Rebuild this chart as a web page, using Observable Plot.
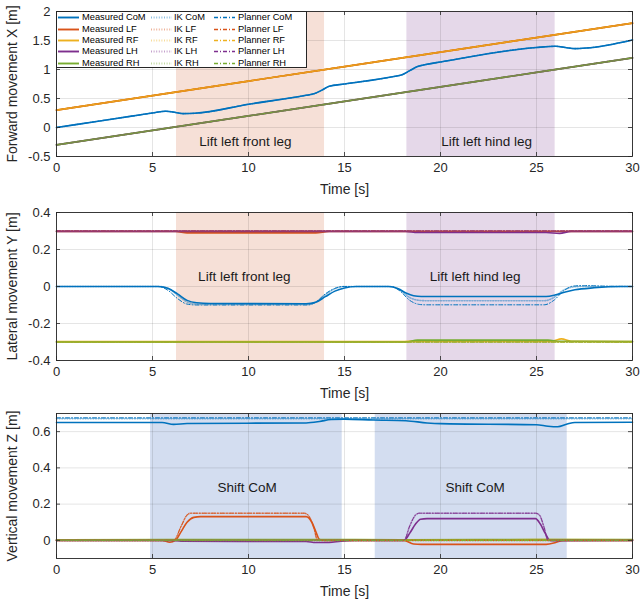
<!DOCTYPE html>
<html><head><meta charset="utf-8">
<script src="https://cdn.jsdelivr.net/npm/d3@7"></script>
<script src="https://cdn.jsdelivr.net/npm/@observablehq/plot@0.6"></script>
<style>
body{margin:0;background:#fff;font-family:"Liberation Sans",Arial,sans-serif;}
#chart{position:relative;width:640px;height:603px;overflow:hidden;}
.panel{position:absolute;left:0;}
g[aria-label$="axis label"]{font-size:14px;}
.legend{position:absolute;left:56px;top:11px;width:251px;height:57px;border:0.8px solid #262626;background:#fff;box-sizing:border-box;font-size:9.3px;color:#000;font-family:"Liberation Sans",Arial,sans-serif;}
.legend .item{position:absolute;white-space:nowrap;line-height:10px;height:10px;}
.legend svg{position:absolute;left:0;top:0;}
.legend span{position:absolute;top:0;}
</style></head>
<body><div id="chart"></div>
<script>
// ---------- categories ----------
const SOURCES = ["Measured", "IK", "Planner"];
const PARTS = ["CoM", "LF", "RF", "LH", "RH"];
const PART_COLORS = ["#0072BD", "#D95319", "#EDB120", "#7E2F8E", "#77AC30"];
const T_TICKS = [0, 5, 10, 15, 20, 25, 30];
const X_TICKS = [-0.5, 0, 0.5, 1, 1.5, 2];
const Y_TICKS = [-0.4, -0.2, 0, 0.2, 0.4];
const Z_TICKS = [0, 0.2, 0.4, 0.6];

// ---------- panel 1: forward X [t, value] ----------
const xCoMMeasured = [[0,0],[2,0.1],[4,0.2],[5,0.25],[5.7,0.28],[6.2,0.26],[6.6,0.24],[7.2,0.245],[10,0.40],[13,0.555],[13.4,0.58],[13.8,0.64],[14.2,0.71],[15,0.75],[17.5,0.875],[18,0.91],[18.4,0.98],[18.8,1.05],[19.3,1.09],[20,1.13],[25,1.38],[26,1.40],[26.5,1.38],[27,1.36],[27.6,1.37],[30,1.51]];
const xFrontFeet = [[0,0.3],[10,0.8],[20,1.3],[30,1.8]];
const xHindFeet = [[0,-0.3],[10,0.2],[20,0.7],[30,1.2]];

// ---------- panel 2: lateral Y ----------
const yCoMMeasured = [[0,0],[5.3,0],[5.8,-0.01],[6.3,-0.04],[6.8,-0.075],[7.3,-0.088],[8,-0.092],[13,-0.093],[13.5,-0.085],[14,-0.055],[14.5,-0.025],[15,-0.008],[15.6,0],[17.3,0],[17.8,-0.012],[18.2,-0.035],[18.6,-0.05],[19,-0.054],[25.5,-0.054],[26,-0.045],[26.5,-0.03],[27,-0.018],[28,-0.007],[29.4,0],[30,0]];
const yCoMIK = [[0,0],[5.4,0],[5.9,-0.015],[6.4,-0.055],[6.9,-0.088],[7.5,-0.096],[13.1,-0.096],[13.5,-0.085],[14,-0.045],[14.5,-0.012],[15,0],[17.4,0],[17.9,-0.02],[18.4,-0.06],[18.9,-0.075],[19.3,-0.077],[25.4,-0.077],[25.9,-0.06],[26.4,-0.02],[26.9,-0.003],[27.3,0],[30,0]];
const yCoMPlanner = [[0,0],[5.3,0],[5.8,-0.02],[6.3,-0.065],[6.8,-0.095],[7.3,-0.1],[13.1,-0.1],[13.5,-0.085],[14,-0.04],[14.5,-0.01],[14.9,0],[17.4,0],[17.9,-0.025],[18.4,-0.075],[18.9,-0.097],[19.2,-0.099],[25.4,-0.099],[25.9,-0.075],[26.4,-0.025],[26.9,0.002],[27.5,0.005],[28.5,0.002],[30,0]];
const yLFMeasured = [[0,0.297],[6.2,0.297],[6.8,0.29],[13.5,0.29],[14.2,0.297],[30,0.297]];
const yLHMeasured = [[0,0.298],[18.2,0.298],[18.8,0.292],[25.5,0.292],[26.2,0.287],[26.8,0.298],[30,0.298]];
const yRFMeasured = [[0,-0.298],[18,-0.298],[18.6,-0.295],[25.8,-0.295],[26.3,-0.283],[26.8,-0.296],[30,-0.298]];
const yRHMeasured = [[0,-0.3],[18.2,-0.3],[18.8,-0.29],[25.6,-0.29],[26.2,-0.296],[30,-0.298]];
const yLeftRef = [[0,0.3],[30,0.3]];
const yRightRef = [[0,-0.3],[30,-0.3]];

// ---------- panel 3: vertical Z ----------
const zCoMMeasured = [[0,0.65],[5.5,0.65],[6.1,0.64],[6.8,0.645],[13,0.648],[13.7,0.656],[14.3,0.667],[15,0.669],[16.5,0.664],[18.2,0.66],[19.3,0.648],[20,0.644],[25,0.638],[25.6,0.63],[26.1,0.627],[26.6,0.642],[27,0.65],[30,0.652]];
const zCoMIK = [[0,0.672],[30,0.672]];
const zCoMPlanner = [[0,0.676],[30,0.676]];
const zLFMeasured = [[0,0],[5.5,0],[5.9,-0.01],[6.2,0],[6.5,0.05],[6.8,0.1],[7.15,0.127],[7.5,0.131],[13,0.131],[13.3,0.1],[13.5,0.05],[13.7,0.005],[14,0],[18.1,0],[18.6,-0.02],[19,-0.022],[25.5,-0.022],[26,-0.012],[26.4,0],[30,0]];
const zLFPlanner = [[0,0],[6.1,0],[6.5,0.08],[6.8,0.14],[7,0.15],[12.9,0.15],[13.1,0.14],[13.4,0.07],[13.6,0],[30,0]];
const zLHMeasured = [[0,0],[6,0],[6.5,-0.005],[13,-0.006],[13.5,-0.012],[14.2,-0.012],[14.8,-0.004],[15.5,0],[18.1,0],[18.4,0.04],[18.7,0.09],[18.96,0.117],[19.3,0.12],[24.95,0.12],[25.2,0.09],[25.45,0.04],[25.7,0],[26,-0.002],[30,0]];
const zLHPlanner = [[0,0],[18.1,0],[18.4,0.08],[18.7,0.14],[18.9,0.15],[24.95,0.15],[25.15,0.14],[25.4,0.07],[25.6,0],[30,0]];
const zRFMeasured = [[0,0.002],[18,0.002],[25,0.004],[30,0.003]];
const zRHMeasured = [[0,0.003],[6,0.004],[13,0.005],[18,0.003],[26,0.005],[30,0.004]];
const zFootRef = [[0,0],[30,0]];

// ---------- phases and notes ----------
const liftBands = [[6.25, 13.96], [18.25, 25.97]];
const shiftBands = [[4.9, 14.88], [16.6, 26.6]];
const liftNames = ["Lift left front leg", "Lift left hind leg"];
const shiftNames = ["Shift CoM", "Shift CoM"];

// ---------- styles ----------
const STYLE = {
  Measured: {w: 1.6, dash: null, op: 1},
  IK: {w: 1.6, dash: "1,1.6", op: 0.45},
  Planner: {w: 1, dash: "4,2,1,2", op: 1}
};
const FONT = '"Liberation Sans", Arial, sans-serif';
const INK = "#262626";

const panels = [
  {top: 0, height: 196, mt: 11, domain: [-0.5, 2], ticks: X_TICKS, label: "Forward movement X [m]",
   bands: liftBands, bandFills: ["#f6e0d7", "#e5d8e9"],
   notes: [{t: 9.84, v: -0.25, text: liftNames[0]}, {t: 22.4, v: -0.25, text: liftNames[1]}],
   series: {
     Measured: {CoM: xCoMMeasured, LF: xFrontFeet, RF: xFrontFeet, LH: xHindFeet, RH: xHindFeet},
     IK: {CoM: xCoMMeasured, LF: xFrontFeet, RF: xFrontFeet, LH: xHindFeet, RH: xHindFeet},
     Planner: {CoM: xCoMMeasured, LF: xFrontFeet, RF: xFrontFeet, LH: xHindFeet, RH: xHindFeet}
   }},
  {top: 200, height: 200, mt: 12, domain: [-0.4, 0.4], ticks: Y_TICKS, label: "Lateral movement Y [m]",
   bands: liftBands, bandFills: ["#f6e0d7", "#e5d8e9"],
   notes: [{t: 9.78, v: 0.054, text: liftNames[0]}, {t: 21.8, v: 0.054, text: liftNames[1]}],
   series: {
     Measured: {CoM: yCoMMeasured, LF: yLFMeasured, RF: yRFMeasured, LH: yLHMeasured, RH: yRHMeasured},
     IK: {CoM: yCoMIK, LF: yLeftRef, RF: yRightRef, LH: yLeftRef, RH: yRightRef},
     Planner: {CoM: yCoMPlanner, LF: yLeftRef, RF: yRightRef, LH: yLeftRef, RH: yRightRef}
   }},
  {top: 400, height: 198, mt: 13, domain: [-0.1, 0.7], ticks: Z_TICKS, label: "Vertical movement Z [m]",
   bands: shiftBands, bandFills: ["#d3ddf0", "#d3ddf0"],
   notes: [{t: 9.93, v: 0.289, text: shiftNames[0]}, {t: 21.8, v: 0.289, text: shiftNames[1]}],
   series: {
     Measured: {CoM: zCoMMeasured, LF: zLFMeasured, RF: zRFMeasured, LH: zLHMeasured, RH: zRHMeasured},
     IK: {CoM: zCoMIK, LF: zLFPlanner, RF: zFootRef, LH: zLHPlanner, RH: zFootRef},
     Planner: {CoM: zCoMPlanner, LF: zLFPlanner, RF: zFootRef, LH: zLHPlanner, RH: zFootRef}
   }}
];

const W = 640, ML = 56, MR = 8, MB = 40;
const chart = document.getElementById("chart");

panels.forEach((p) => {
  const innerH = p.height - p.mt - MB;
  const innerW = W - ML - MR;
  const marks = [];
  p.bands.forEach((b, i) => {
    marks.push(Plot.rect([b], {x1: d => d[0], x2: d => d[1], y1: () => p.domain[0], y2: () => p.domain[1], fill: p.bandFills[i]}));
  });
  marks.push(Plot.ruleX(T_TICKS, {x: d => d, stroke: INK, strokeOpacity: 0.15, strokeWidth: 0.8}));
  marks.push(Plot.ruleY(p.ticks, {y: d => d, stroke: INK, strokeOpacity: 0.15, strokeWidth: 0.8}));
  SOURCES.forEach(src => {
    const st = STYLE[src];
    PARTS.forEach((part, j) => {
      marks.push(Plot.line(p.series[src][part], {
        x: d => d[0], y: d => d[1], stroke: PART_COLORS[j], strokeWidth: st.w,
        strokeDasharray: st.dash, strokeOpacity: st.op, curve: "monotone-x"
      }));
    });
  });
  marks.push(Plot.text(p.notes, {x: "t", y: "v", text: "text", fontSize: 13.5, fill: "#1a1a1a", fontFamily: FONT}));
  // inward ticks on all four sides
  marks.push(Plot.tickX(T_TICKS, {x: d => d, insetTop: innerH - 4, stroke: INK, strokeWidth: 0.8}));
  marks.push(Plot.tickX(T_TICKS, {x: d => d, insetBottom: innerH - 4, stroke: INK, strokeWidth: 0.8}));
  marks.push(Plot.tickY(p.ticks, {y: d => d, insetRight: innerW - 4, stroke: INK, strokeWidth: 0.8}));
  marks.push(Plot.tickY(p.ticks, {y: d => d, insetLeft: innerW - 4, stroke: INK, strokeWidth: 0.8}));
  marks.push(Plot.frame({stroke: INK, strokeWidth: 0.9}));

  const svg = Plot.plot({
    width: W, height: p.height,
    marginLeft: ML, marginRight: MR, marginTop: p.mt, marginBottom: MB,
    style: {fontFamily: FONT, fontSize: "13px", color: INK, background: "transparent", overflow: "visible"},
    x: {domain: [0, 30], ticks: T_TICKS, tickSize: 0, tickPadding: 6, tickFormat: d => String(d),
        label: "Time [s]", labelAnchor: "center", labelOffset: 37, labelArrow: "none"},
    y: {domain: p.domain, ticks: p.ticks, tickSize: 0, tickPadding: 6, tickFormat: d => String(d),
        label: p.label, labelAnchor: "center", labelOffset: 49, labelArrow: "none"},
    marks
  });
  const div = document.createElement("div");
  div.className = "panel";
  div.style.top = p.top + "px";
  div.appendChild(svg);
  chart.appendChild(div);
});

// ---------- legend ----------
const legend = document.createElement("div");
legend.className = "legend";
const colSample = [1, 94, 157];
const colText = [25, 117, 181];
const rowTop = [0, 11.5, 23, 34.3, 45.5];
SOURCES.forEach((src, c) => {
  const st = STYLE[src];
  PARTS.forEach((part, r) => {
    const item = document.createElement("div");
    item.className = "item";
    item.style.left = colSample[c] + "px";
    item.style.top = rowTop[r] + "px";
    const s = d3.create("svg").attr("width", 22).attr("height", 10);
    s.append("line").attr("x1", 0).attr("x2", 21).attr("y1", 5.5).attr("y2", 5.5)
      .attr("stroke", PART_COLORS[r]).attr("stroke-width", st.w + 0.3)
      .attr("stroke-dasharray", st.dash).attr("stroke-opacity", st.op);
    item.appendChild(s.node());
    const span = document.createElement("span");
    span.style.left = (colText[c] - colSample[c]) + "px";
    span.textContent = src + " " + part;
    item.appendChild(span);
    legend.appendChild(item);
  });
});
chart.appendChild(legend);
</script></body></html>
